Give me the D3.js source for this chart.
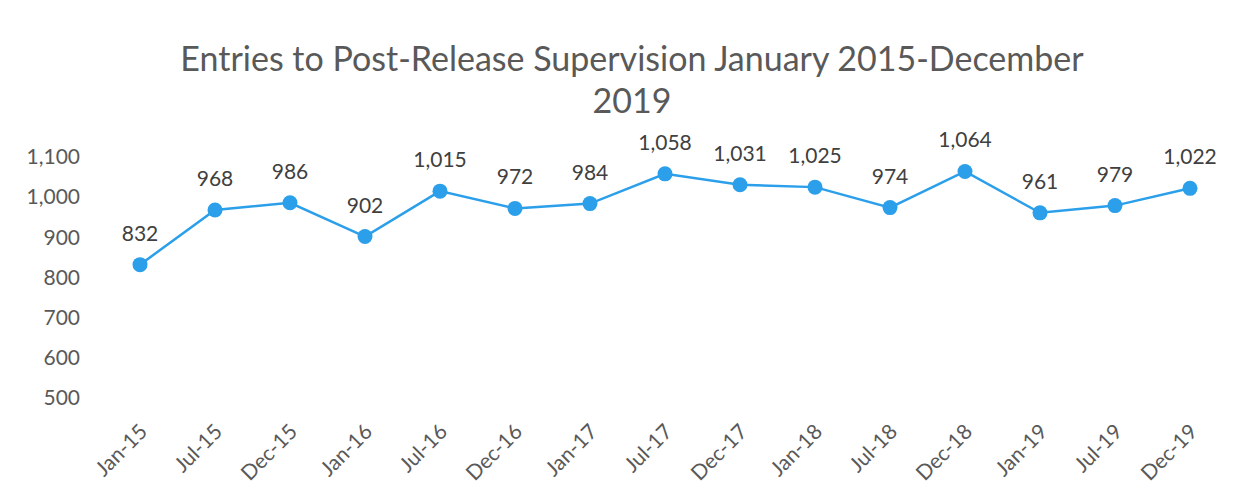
<!DOCTYPE html>
<html lang="en">
<head>
<meta charset="UTF-8">
<title>Entries to Post-Release Supervision</title>
<script src="https://d3js.org/d3.v7.min.js"></script>
<style>
    body { margin: 0; background: #fff; }
    svg { display: block; font-family: Lato, "Open Sans", sans-serif; }
</style>
</head>
<body>
<div id="chart"></div>
<script>
    const titleLines = ["Entries to Post-Release Supervision January 2015-December", "2019"];
    const months = ["Jan-15", "Jul-15", "Dec-15", "Jan-16", "Jul-16", "Dec-16", "Jan-17", "Jul-17",
                    "Dec-17", "Jan-18", "Jul-18", "Dec-18", "Jan-19", "Jul-19", "Dec-19"];
    const entries = [832, 968, 986, 902, 1015, 972, 984, 1058, 1031, 1025, 974, 1064, 961, 979, 1022];
    const yTicks = [500, 600, 700, 800, 900, 1000, 1100];

    const width = 1251, height = 497;
    const svg = d3.select("#chart").append("svg")
        .attr("width", width)
        .attr("height", height);

    const x = d3.scalePoint().domain(months).range([140, 1190]);
    const y = d3.scaleLinear().domain([500, 1100]).range([398, 157]);

    const fmt = d3.format(",");

    // title
    svg.append("text")
        .attr("text-anchor", "middle")
        .attr("fill", "#595959")
        .attr("font-size", 34)
        .selectAll("tspan")
        .data(titleLines)
        .join("tspan")
        .attr("x", 632)
        .attr("y", (d, i) => 71 + i * 42)
        .text(d => d);

    // y axis
    const yAxis = svg.append("g")
        .attr("transform", "translate(80,0)")
        .call(d3.axisLeft(y).tickValues(yTicks).tickFormat(fmt).tickSize(0).tickPadding(0));
    yAxis.select(".domain").remove();
    yAxis.selectAll("text")
        .attr("fill", "#595959")
        .attr("font-size", 21)
        .attr("font-family", "Lato, sans-serif");

    // x axis, labels slanted
    const xAxis = svg.append("g")
        .attr("transform", "translate(0,405)")
        .call(d3.axisBottom(x).tickSize(0).tickPadding(0));
    xAxis.select(".domain").remove();
    xAxis.selectAll("text")
        .attr("fill", "#595959")
        .attr("font-size", 21)
        .attr("font-family", "Lato, sans-serif")
        .attr("text-anchor", "end")
        .attr("y", 0)
        .attr("dy", 0)
        .attr("transform", "translate(8,28) rotate(-45)");

    const blue = "#2b9fea";

    svg.append("path")
        .datum(entries)
        .attr("fill", "none")
        .attr("stroke", blue)
        .attr("stroke-width", 2.5)
        .attr("d", d3.line().x((d, i) => x(months[i])).y(d => y(d)));

    svg.selectAll("circle.pt")
        .data(entries)
        .join("circle")
        .attr("class", "pt")
        .attr("cx", (d, i) => x(months[i]))
        .attr("cy", d => y(d))
        .attr("r", 7.5)
        .attr("fill", blue);

    svg.selectAll("text.lbl")
        .data(entries)
        .join("text")
        .attr("class", "lbl")
        .attr("x", (d, i) => x(months[i]))
        .attr("y", d => y(d) - 24)
        .attr("text-anchor", "middle")
        .attr("fill", "#404040")
        .attr("font-size", 21)
        .text(d => fmt(d));
</script>
</body>
</html>
